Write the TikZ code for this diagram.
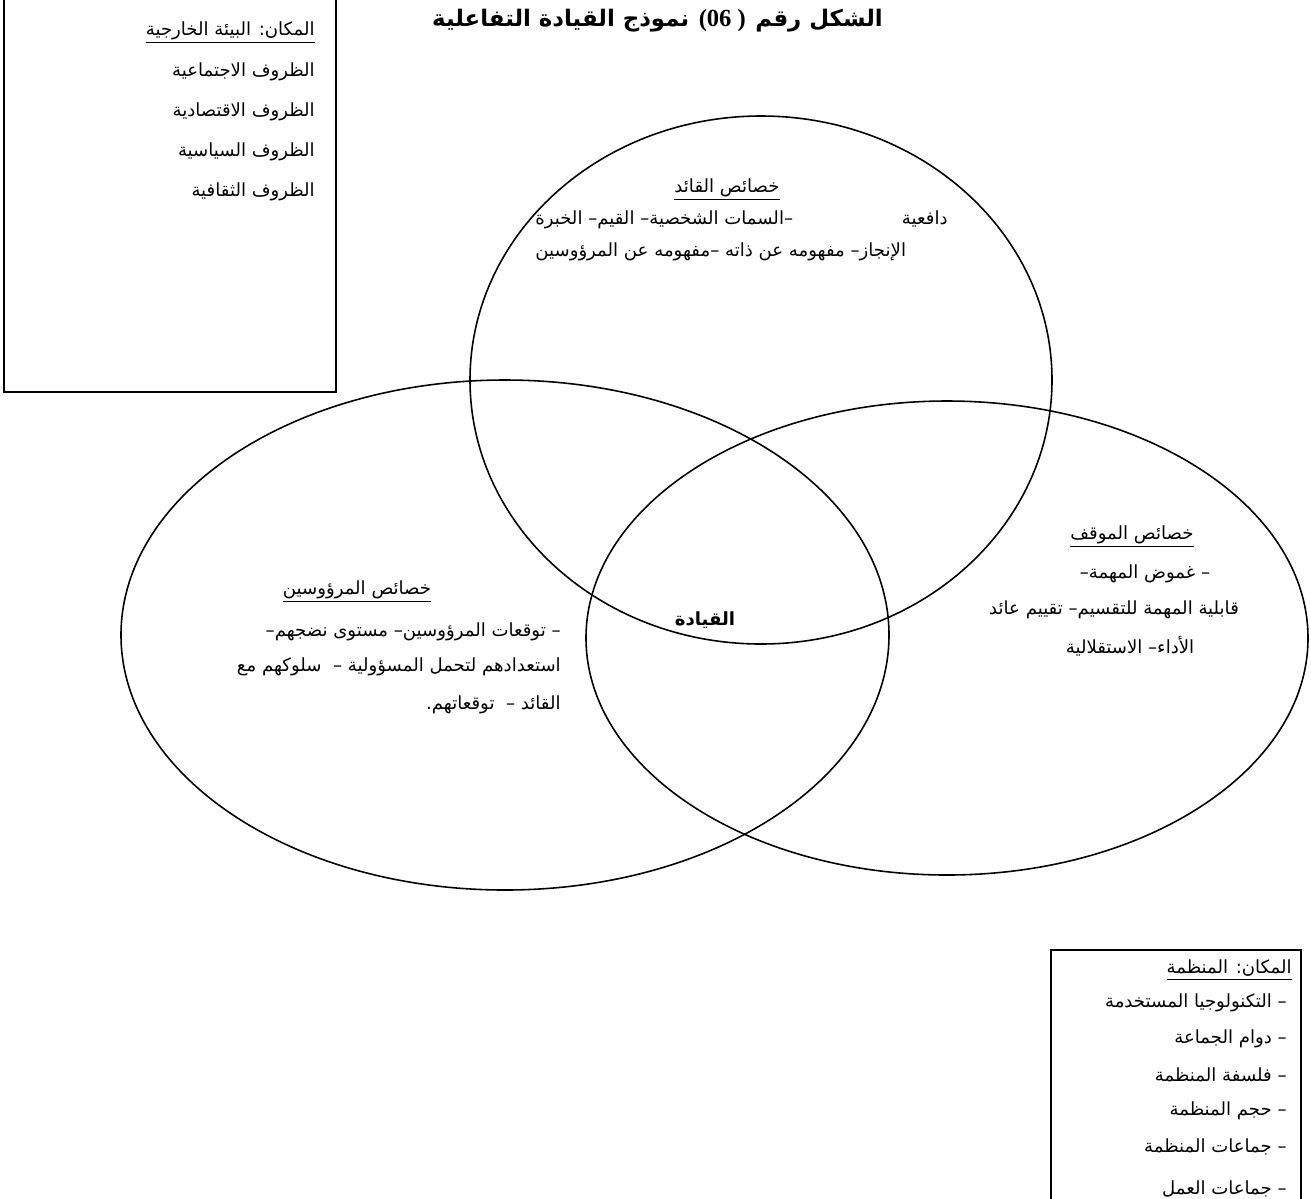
\documentclass[tikz,border=0pt]{standalone}
\usepackage{fontspec}
\usetikzlibrary{positioning}
\newfontfamily\arabicfont[Script=Arabic]{DejaVu Sans}
\newfontfamily\numfont{Liberation Serif}
\TeXXeTstate=1

\begin{document}
\begin{tikzpicture}[x=0.02cm,y=-0.02cm,
        txt/.style={inner sep=0pt,font=\arabicfont\fontsize{10.3}{12}\selectfont},
        head/.style={inner sep=0pt,font=\arabicfont\bfseries\fontsize{13}{15}\selectfont},
        ring/.style={line width=0.9pt},
        frame/.style={line width=1pt}]
        \useasboundingbox (0,0) rectangle (1311,1198);
        \draw[frame] (4,-10) rectangle (336,392);          % environment
        \draw[frame] (1051,950) rectangle (1301,1230);     % organisation
        \draw[ring] (761,380) ellipse (291 and 264);       % leader
        \draw[ring] (505,635) ellipse (384 and 255);       % followers
        \draw[ring] (947,638) ellipse (361 and 237);       % situation

        \node[head,anchor=base east](titleR) at (883,26) {\beginR الشكل رقم\endR};
        \node[head,base left=5pt of titleR,font=\numfont\bfseries\fontsize{14}{16}\selectfont](titleM) {(06 )};
        \node[head,base left=5pt of titleM](titleL) {\beginR نموذج القيادة التفاعلية\endR};

        \node[txt,anchor=east](env) at (315,33) {\underline{\beginR المكان: البيئة الخارجية\endR}};
        \node[txt,anchor=east](envA) at (315,72) {\beginR الظروف الاجتماعية\endR};
        \node[txt,anchor=east](envB) at (315,112) {\beginR الظروف الاقتصادية\endR};
        \node[txt,anchor=east](envC) at (315,152) {\beginR الظروف السياسية\endR};
        \node[txt,anchor=east](envD) at (315,192) {\beginR الظروف الثقافية\endR};

        \node[txt](lead) at (727,190) {\underline{\beginR خصائص القائد\endR}};
        \node[txt,anchor=west](leadA) at (535,220) {\beginR دافعية\hspace{62pt}–السمات الشخصية– القيم– الخبرة\endR};
        \node[txt,anchor=west](leadB) at (535,252) {\beginR الإنجاز– مفهومه عن ذاته –مفهومه عن المرؤوسين\endR};

        \node[txt](foll) at (357,592) {\underline{\beginR خصائص المرؤوسين\endR}};
        \node[txt,anchor=east](follA) at (561,632) {\beginR – توقعات المرؤوسين– مستوى نضجهم–\endR};
        \node[txt,anchor=east](follB) at (561,667) {\beginR استعدادهم لتحمل المسؤولية – \ سلوكهم مع\endR};
        \node[txt,anchor=east](follC) at (561,705) {\beginR القائد – \ توقعاتهم.\endR};

        \node[txt,font=\arabicfont\bfseries\fontsize{10.3}{12}\selectfont](core) at (705,620) {\beginR القيادة\endR};

        \node[txt](sit) at (1132,537) {\underline{\beginR خصائص الموقف\endR}};
        \node[txt](sitA) at (1145,574) {\beginR – غموض المهمة–\endR};
        \node[txt](sitB) at (1114,610) {\beginR قابلية المهمة للتقسيم– تقييم عائد\endR};
        \node[txt](sitC) at (1130,646) {\beginR الأداء– الاستقلالية\endR};

        \node[txt,anchor=east](org) at (1292,970) {\underline{\beginR المكان: المنظمة\endR}};
        \node[txt,anchor=east](orgA) at (1287,1003) {\beginR – التكنولوجيا المستخدمة\endR};
        \node[txt,anchor=east](orgB) at (1287,1039) {\beginR – دوام الجماعة\endR};
        \node[txt,anchor=east](orgC) at (1287,1075) {\beginR – فلسفة المنظمة\endR};
        \node[txt,anchor=east](orgD) at (1287,1111) {\beginR – حجم المنظمة\endR};
        \node[txt,anchor=east](orgE) at (1287,1147) {\beginR – جماعات المنظمة\endR};
        \node[txt,anchor=base east](orgF) at (1287,1194) {\beginR – جماعات العمل\endR};
\end{tikzpicture}
\end{document}
